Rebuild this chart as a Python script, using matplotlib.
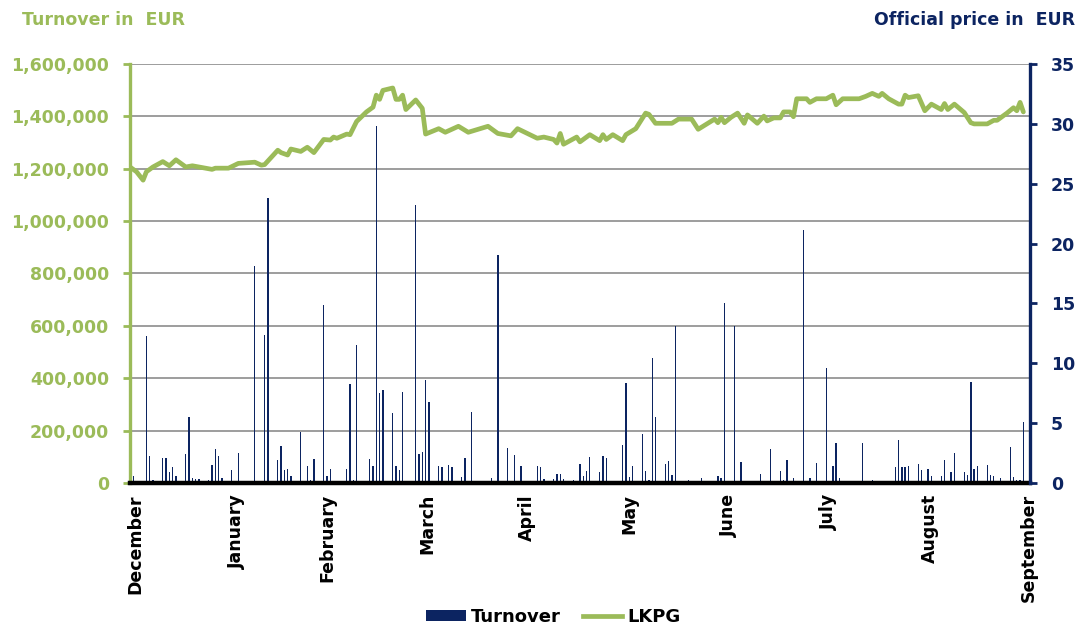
import matplotlib
matplotlib.use("Agg")
import matplotlib.pyplot as plt
from matplotlib.ticker import FuncFormatter, MultipleLocator
from matplotlib.patches import Patch
from matplotlib.lines import Line2D

# ---- data (x = day offset from 1 December) ----
turnover_days = [1, 5, 6, 7, 10, 11, 12, 13, 14, 17, 18, 19, 20, 21, 24, 25, 26, 27, 28, 31,
                 33, 38, 41, 42, 45, 46, 47, 48, 49, 52, 54, 55, 56, 59, 60, 61, 63, 66, 67, 68,
                 69, 70, 73, 74, 75, 76, 77, 80, 81, 82, 83, 87, 88, 89, 90, 91, 94, 95, 96, 97,
                 98, 101, 102, 104, 109, 110, 111, 112, 115, 116, 117, 119, 124, 125, 126, 129,
                 130, 131, 132, 135, 137, 138, 139, 140, 143, 144, 145, 150, 151, 152, 153, 156,
                 157, 158, 159, 160, 163, 164, 165, 166, 170, 174, 177, 179, 180, 181, 184, 185,
                 186, 187, 188, 191, 192, 195, 198, 199, 200, 202, 205, 207, 208, 209, 212, 214,
                 215, 216, 220, 221, 222, 223, 226, 233, 234, 235, 236, 237, 240, 241, 243, 244,
                 247, 248, 249, 250, 251, 254, 255, 256, 257, 258, 261, 262, 263, 265, 268, 269,
                 270, 271, 272]
turnover_eur = [28000, 561000, 103000, 13000, 95000, 95000, 42000, 59000, 26000, 110000,
                253000, 20000, 14000, 14000, 10000, 67000, 129000, 103000, 18000, 51000,
                114000, 830000, 565000, 1090000, 87000, 141000, 50000, 55000, 26000, 194000,
                63000, 13000, 91000, 680000, 26000, 54000, 5000, 55000, 378000, 13000,
                528000, 9000, 91000, 65000, 1365000, 342000, 356000, 267000, 65000, 51000,
                346000, 1060000, 109000, 117000, 395000, 309000, 65000, 62000, 9000, 69000,
                62000, 24000, 95000, 270000, 5000, 18000, 6000, 870000, 133000, 5000,
                106000, 63000, 65000, 59000, 14000, 14000, 33000, 33000, 14000, 10000,
                74000, 26000, 47000, 100000, 40000, 103000, 95000, 144000, 383000, 22000,
                64000, 186000, 44000, 10000, 476000, 253000, 71000, 83000, 29000, 600000,
                13000, 20000, 5000, 28000, 17000, 688000, 600000, 9000, 79000, 5000,
                5000, 5000, 36000, 129000, 47000, 13000, 87000, 17000, 965000, 17000,
                5000, 76000, 438000, 64000, 151000, 20000, 5000, 5000, 5000, 151000,
                13000, 59000, 163000, 62000, 59000, 65000, 73000, 50000, 55000, 26000,
                28000, 88000, 9000, 41000, 115000, 40000, 29000, 385000, 53000, 63000,
                67000, 29000, 26000, 17000, 137000, 21000, 10000, 13000, 232000]

price_days = [0, 2, 4, 5, 7, 10, 12, 14, 17, 19, 21, 25, 26, 30, 33, 38, 40, 41, 45, 46,
              48, 49, 52, 54, 56, 59, 61, 62, 63, 66, 67, 69, 72, 74, 75, 76, 77, 80, 81, 82,
              83, 84, 87, 89, 90, 94, 96, 100, 103, 109, 112, 116, 118, 124, 126, 129, 130, 131,
              132, 136, 137, 140, 143, 144, 145, 147, 150, 151, 154, 157, 158, 160, 165, 167,
              171, 173, 178, 179, 180, 181, 183, 185, 187, 188, 191, 193, 194, 196, 198, 199,
              201, 202, 203, 206, 207, 209, 212, 214, 215, 217, 222, 224, 226, 228, 229, 231,
              234, 235, 236, 237, 240, 242, 244, 247, 248, 249, 251, 254, 256, 257, 261, 263,
              264, 267, 269, 270, 271, 272]
price_lkpg = [26.4, 26.0, 25.3, 26.0, 26.4, 26.85, 26.5, 27.0, 26.4, 26.5, 26.4, 26.2, 26.3,
              26.3, 26.7, 26.8, 26.55, 26.6, 27.8, 27.6, 27.4, 27.9, 27.7, 28.05, 27.6, 28.7,
              28.65, 28.9, 28.8, 29.15, 29.1, 30.2, 31.0, 31.4, 32.4, 32.05, 32.8, 33.0, 32.05,
              32.05, 32.4, 31.2, 32.0, 31.3, 29.15, 29.6, 29.3, 29.8, 29.3, 29.8, 29.2, 29.0,
              29.6, 28.8, 28.9, 28.7, 28.4, 29.2, 28.3, 28.9, 28.5, 29.1, 28.6, 29.1, 28.7,
              29.1, 28.6, 29.1, 29.6, 30.9, 30.8, 30.05, 30.05, 30.4, 30.4, 29.55, 30.4, 30.1,
              30.55, 30.1, 30.55, 30.9, 30.05, 30.75, 30.05, 30.65, 30.25, 30.5, 30.5, 31.0,
              31.0, 30.6, 32.1, 32.1, 31.8, 32.1, 32.1, 32.4, 31.6, 32.1, 32.1, 32.3, 32.55,
              32.3, 32.55, 32.1, 31.65, 31.65, 32.4, 32.2, 32.35, 31.1, 31.65, 31.2, 31.7,
              31.2, 31.65, 30.95, 30.1, 30.0, 30.0, 30.3, 30.3, 30.9, 31.35, 31.1, 31.8, 31.0]

month_labels = ["December", "January", "February", "March", "April", "May",
                "June", "July", "August", "September"]
month_pos = [1.5, 32.6, 60.0, 90.7, 120.9, 152.2, 182.3, 212.8, 243.5, 273.5]

# ---- style ----
GREEN = "#9BBB59"
NAVY = "#0C2461"
FONT = "DejaVu Sans"
plt.rcParams["font.family"] = [FONT]

fig = plt.figure(figsize=(10.83, 6.28), dpi=100)
ax = fig.add_axes([0.120, 0.231, 0.831, 0.667])
ax2 = ax.twinx()

ax.bar(turnover_days, turnover_eur, width=0.42, color=NAVY, linewidth=0, zorder=2)
ax2.plot(price_days, price_lkpg, color=GREEN, lw=3.4, solid_joinstyle="round",
         solid_capstyle="round", zorder=3)

ax.set_xlim(0, 274)
ax.set_ylim(0, 1600000)
ax2.set_ylim(0, 35)

ax.yaxis.set_major_locator(MultipleLocator(200000))
ax.yaxis.set_major_formatter(FuncFormatter(lambda v, p: f"{int(v):,}"))
ax2.yaxis.set_major_locator(MultipleLocator(5))

ax.set_axisbelow(True)
ax.grid(axis="y", color="#8c8c8c", lw=1.2)
ax.grid(axis="x", visible=False)

ax.set_xticks(month_pos)
ax.set_xticklabels(month_labels, rotation=90, fontsize=12.5, fontweight="bold",
                   color="black", va="top", ha="center")
ax.tick_params(axis="x", length=0, pad=8)

ax.tick_params(axis="y", direction="out", length=5, width=2, color=GREEN,
               labelcolor=GREEN, labelsize=12.5, pad=10)
for t in ax.get_yticklabels():
    t.set_fontweight("bold")
ax2.tick_params(axis="y", direction="out", length=5, width=2, color=NAVY,
                labelcolor=NAVY, labelsize=12.5, pad=10)
for t in ax2.get_yticklabels():
    t.set_fontweight("bold")

for a in (ax, ax2):
    a.spines["top"].set_visible(False)
ax.spines["right"].set_visible(False)
ax.spines["left"].set_color(GREEN)
ax.spines["left"].set_linewidth(2.4)
ax.spines["bottom"].set_color("black")
ax.spines["bottom"].set_linewidth(3.2)
ax.spines["bottom"].set_zorder(5)
ax2.spines["left"].set_visible(False)
ax2.spines["bottom"].set_visible(False)
ax2.spines["right"].set_color(NAVY)
ax2.spines["right"].set_linewidth(2.4)

fig.text(0.020, 0.968, "Turnover in  EUR", color=GREEN, fontsize=12.5,
         fontweight="bold", ha="left", va="center")
fig.text(0.993, 0.968, "Official price in  EUR", color=NAVY, fontsize=12.5,
         fontweight="bold", ha="right", va="center")

handles = [Patch(facecolor=NAVY, edgecolor="none", label="Turnover"),
           Line2D([0], [0], color=GREEN, lw=3.4, label="LKPG")]
fig.legend(handles=handles, loc="center", bbox_to_anchor=(0.511, 0.017), ncol=2,
           frameon=False, prop={"family": FONT, "weight": "bold", "size": 13},
           handlelength=2.2, handleheight=0.55, handletextpad=0.3, columnspacing=1.2,
           borderpad=0.1)

fig.savefig("out.png", dpi=100)
